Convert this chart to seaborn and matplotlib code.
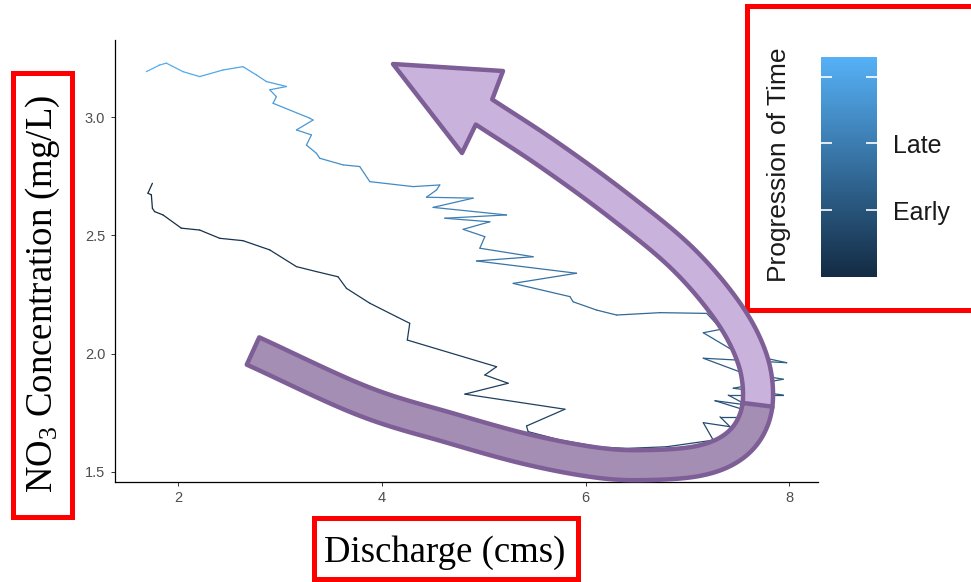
import numpy as np
import pandas as pd
import matplotlib
matplotlib.use("Agg")
import matplotlib.pyplot as plt
import seaborn as sns
from matplotlib.colors import LinearSegmentedColormap, Normalize
from matplotlib.cm import ScalarMappable
from matplotlib.patches import Polygon, Rectangle

# ---------------- data ----------------
discharge = [1.747, 1.703, 1.737, 1.747, 1.769, 1.851, 2.031, 2.211, 2.408, 2.636,
             2.898, 3.161, 3.357, 3.569, 3.652, 3.881, 4.143, 4.273, 4.249, 5.125,
             5.010, 5.239, 4.814, 5.796, 5.419, 5.435, 5.746, 6.139, 6.401, 6.794,
             7.252,
             7.154, 7.416, 7.318, 7.776, 7.269, 7.580, 7.399, 7.939, 7.448, 7.939,
             7.514, 7.154, 7.973, 7.465, 7.154, 7.334, 7.187,
             6.729, 6.303, 6.107, 5.877, 5.845, 5.288, 5.910, 4.928, 5.484, 4.961,
             5.010, 4.797, 5.059, 4.617, 5.223, 4.502, 4.895, 4.437, 4.536, 4.568,
             4.306, 3.881, 3.782, 3.618, 3.390, 3.357, 3.259, 3.308, 3.161, 3.324,
             3.291, 2.931, 2.964, 2.899, 3.063, 2.866, 2.768, 2.636, 2.440, 2.211,
             2.047, 1.884, 1.818, 1.688]
no3 = [2.721, 2.679, 2.672, 2.615, 2.601, 2.587, 2.531, 2.523, 2.488, 2.478,
       2.439, 2.368, 2.347, 2.325, 2.276, 2.213, 2.156, 2.128, 2.057, 1.944,
       1.909, 1.874, 1.828, 1.764, 1.693, 1.669, 1.634, 1.604, 1.598, 1.605,
       1.633,
       1.707, 1.690, 1.732, 1.732, 1.800, 1.782, 1.824, 1.824, 1.853, 1.891,
       1.922, 1.980, 1.961, 2.008, 2.088, 2.103, 2.170,
       2.173, 2.163, 2.184, 2.219, 2.241, 2.297, 2.340, 2.392, 2.410, 2.446,
       2.495, 2.526, 2.558, 2.573, 2.587, 2.619, 2.658, 2.662, 2.693, 2.714,
       2.707, 2.728, 2.792, 2.799, 2.827, 2.848, 2.883, 2.926, 2.947, 2.989,
       2.997, 3.060, 3.088, 3.117, 3.131, 3.152, 3.180, 3.215, 3.201, 3.173,
       3.194, 3.230, 3.222, 3.194]
hours = [0, 1, 2, 3, 4, 5, 6, 8, 9, 11, 12, 14, 15, 16, 17, 19, 20, 21, 22, 24,
         25, 26, 27, 28, 29, 30, 31, 33, 35, 37, 39,
         41, 43, 45, 47, 49, 51, 53, 55, 57, 59, 61, 63, 65, 67, 69, 71, 73,
         76, 79, 81, 83, 85, 87, 89, 91, 93, 95, 97, 99, 101, 103, 105, 107,
         109, 111, 113, 115, 117, 119, 121, 123, 125, 127, 129, 131, 133, 135,
         137, 139, 141, 143, 145, 147, 149, 151, 153, 155, 157, 159, 162, 165]
x_ticks = [2, 4, 6, 8]
y_ticks = [1.5, 2.0, 2.5, 3.0]
y_tick_labels = ["1.5", "2.0", "2.5", "3.0"]
time_breaks = [50, 100, 150]
time_labels = ["Early", "Late", ""]

# segments table: each consecutive pair of points is one segment coloured by its time
rows = []
for i in range(len(discharge) - 1):
    rows.append((discharge[i], no3[i], i, hours[i]))
    rows.append((discharge[i + 1], no3[i + 1], i, hours[i]))
seg = pd.DataFrame(rows, columns=["discharge", "no3", "seg", "time"])

W, H = 971, 582
sns.set_theme(style="ticks")
plt.rcParams["font.family"] = ["Liberation Sans", "DejaVu Sans"]
plt.rcParams["mathtext.fontset"] = "custom"
plt.rcParams["mathtext.rm"] = "Liberation Serif"
plt.rcParams["mathtext.it"] = "Liberation Serif:italic"

cmap = LinearSegmentedColormap.from_list("gg", ["#132B43", "#56B1F7"])
norm = Normalize(min(hours), max(hours))

fig = plt.figure(figsize=(W / 100, H / 100), dpi=100)
fig.patch.set_facecolor("white")
ax = fig.add_axes([115 / W, 1 - 481.7 / H, (818 - 115) / W, (481.7 - 40) / H])

sns.lineplot(data=seg, x="discharge", y="no3", hue="time", units="seg",
             estimator=None, sort=False, palette=cmap, hue_norm=norm,
             legend=False, linewidth=0.9, ax=ax)

ax.set_xlim(1.38, 8.28)
ax.set_ylim(1.457, 3.328)
ax.set_xticks(x_ticks)
ax.set_xticklabels([str(v) for v in x_ticks])
ax.set_yticks(y_ticks)
ax.set_yticklabels(y_tick_labels)
ax.set_xlabel("")
ax.set_ylabel("")
sns.despine(ax=ax)
for s in ["left", "bottom"]:
    ax.spines[s].set_color("black")
    ax.spines[s].set_linewidth(0.9)
ax.tick_params(length=3, width=0.7, color="#333333", labelsize=10.5,
               labelcolor="#4D4D4D", pad=4)

# axis titles
fig.text(445 / W, 1 - 553 / H, "Discharge (cms)", family="Liberation Serif",
         fontsize=26.5, ha="center", va="center", color="black")
fig.text(43 / W, 1 - 294 / H, r"NO$_{\mathrm{3}}$ Concentration (mg/L)",
         family="Liberation Serif", fontsize=26.5, rotation=90,
         ha="center", va="center", color="black")

# colour bar legend
cax = fig.add_axes([821 / W, 1 - 276.7 / H, 55.7 / W, 220 / H])
cb = fig.colorbar(ScalarMappable(norm=norm, cmap=cmap), cax=cax)
cb.outline.set_visible(False)
cb.set_ticks(time_breaks)
cb.set_ticklabels(time_labels)
cax.minorticks_off()
cax.tick_params(which="both", length=0, left=False, right=False,
                labelleft=False, labelright=True, labelsize=18,
                labelcolor="#1A1A1A", pad=12)
ytr = cax.get_yaxis_transform()
cax.hlines(time_breaks, 0, 0.19, colors="white", lw=1.2, transform=ytr, zorder=5)
cax.hlines(time_breaks, 0.81, 1.0, colors="white", lw=1.2, transform=ytr, zorder=5)
fig.text(779 / W, 1 - 165 / H, "Progression of Time", rotation=90,
         ha="center", va="center", fontsize=19, color="#1A1A1A")

# red boxes
def red_box(x0, y0, x1, y1):
    fig.add_artist(Rectangle((x0 / W, 1 - y1 / H), (x1 - x0) / W, (y1 - y0) / H,
                             transform=fig.transFigure, fill=False,
                             ec="#FF0000", lw=3.6, zorder=6))

red_box(13, 73, 72, 517)
red_box(314, 518, 578, 579)
red_box(747, 6, 990, 310)

# purple curved arrow overlay
def catmull(pts, n=30):
    P = np.asarray(pts, float)
    P = np.vstack([2 * P[0] - P[1], P, 2 * P[-1] - P[-2]])
    out = []
    t = np.linspace(0, 1, n, endpoint=False)[:, None]
    for i in range(1, len(P) - 2):
        p0, p1, p2, p3 = P[i - 1], P[i], P[i + 1], P[i + 2]
        out.append(0.5 * (2 * p1 + (-p0 + p2) * t
                          + (2 * p0 - 5 * p1 + 4 * p2 - p3) * t ** 2
                          + (-p0 + 3 * p1 - 3 * p2 + p3) * t ** 3))
    out.append(P[-2][None])
    return np.vstack(out)

center = catmull([(484, 112), (548, 154), (618, 205), (682, 258), (728, 312),
                  (752, 358), (758, 398), (750, 428), (730, 449), (698, 461),
                  (650, 465), (600, 463), (530, 450), (450, 428), (363, 401),
                  (253, 351)])
tan = np.gradient(center, axis=0)
tan /= np.linalg.norm(tan, axis=1)[:, None]
nrm = np.column_stack([-tan[:, 1], tan[:, 0]])
hw = 15.0
side_p = center + hw * nrm
side_m = center - hw * nrm
k = int(np.argmin(np.hypot(center[:, 0] - 758, center[:, 1] - 405)))

def to_fig(p):
    p = np.asarray(p, float)
    return np.column_stack([p[:, 0] / W, 1 - p[:, 1] / H])

edge = "#7E5E96"
light = np.vstack([[(393, 64), (503, 71)], side_m[:k + 2], side_p[:k + 2][::-1],
                   [(462, 153)]])
dark = np.vstack([side_m[k:], side_p[k:][::-1]])
fig.add_artist(Polygon(to_fig(light), closed=True, transform=fig.transFigure,
                       fc="#C9B2DB", ec=edge, lw=3.2, joinstyle="round", zorder=7))
fig.add_artist(Polygon(to_fig(dark), closed=True, transform=fig.transFigure,
                       fc="#A48EB4", ec=edge, lw=3.2, joinstyle="round", zorder=8))

fig.savefig("out.png", dpi=100, facecolor="white")
